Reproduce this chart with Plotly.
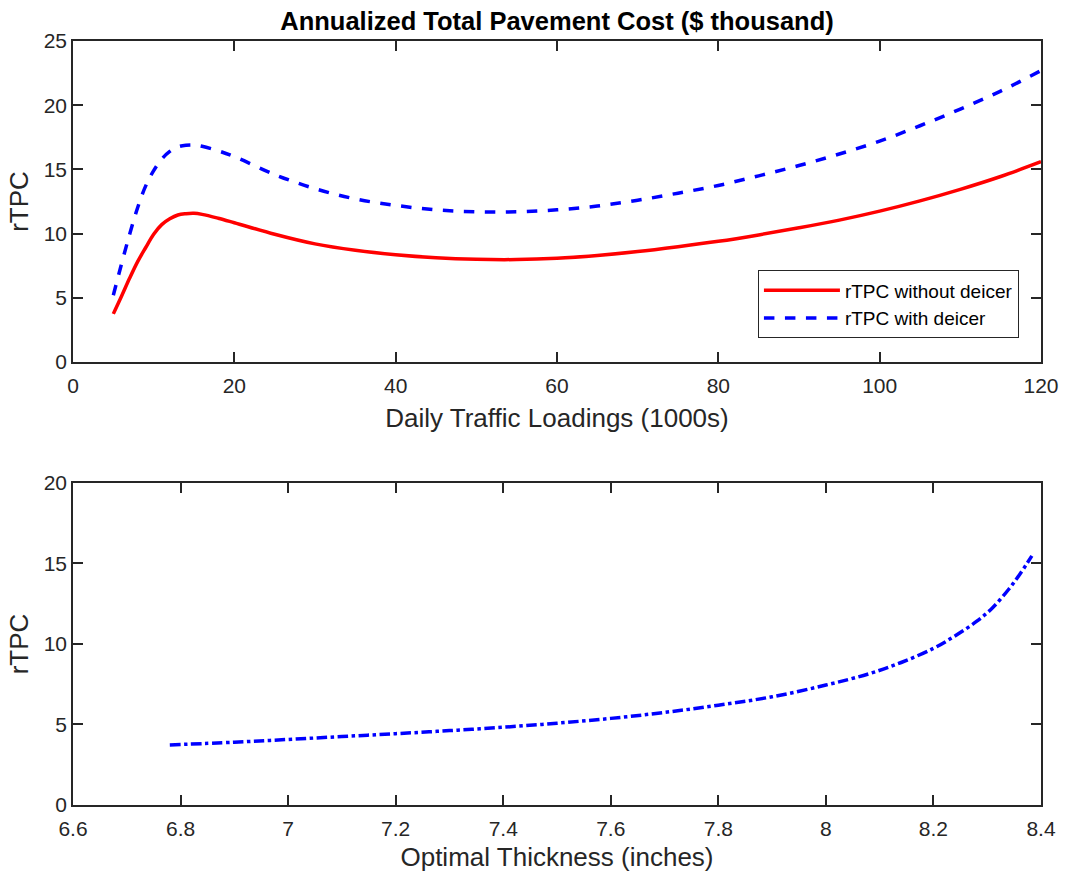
import plotly.graph_objects as go

# Top panel data
traffic = [5, 6, 7, 8, 9, 10, 11, 12, 13, 14, 15, 16, 18, 20, 25, 30, 35, 40, 45, 50, 55, 60, 65, 70, 75, 80, 85, 90, 95, 100, 105, 110, 115, 120]
rtpc_no_deicer = [3.75, 5.1, 6.5, 7.8, 8.9, 9.95, 10.7, 11.15, 11.45, 11.55, 11.58, 11.5, 11.2, 10.85, 9.95, 9.2, 8.7, 8.35, 8.12, 8.0, 7.98, 8.08, 8.3, 8.6, 8.98, 9.4, 9.9, 10.45, 11.05, 11.75, 12.55, 13.45, 14.45, 15.6]
rtpc_deicer = [5.2, 7.6, 9.9, 12.0, 13.7, 14.9, 15.8, 16.4, 16.75, 16.88, 16.9, 16.8, 16.45, 16.0, 14.6, 13.5, 12.7, 12.2, 11.85, 11.7, 11.7, 11.85, 12.15, 12.6, 13.15, 13.75, 14.5, 15.3, 16.2, 17.2, 18.4, 19.7, 21.1, 22.7]

# Bottom panel data
thickness = [6.78, 6.9, 7.0, 7.1, 7.2, 7.3, 7.4, 7.5, 7.6, 7.7, 7.8, 7.9, 8.0, 8.08, 8.14, 8.2, 8.24, 8.28, 8.31, 8.34, 8.36, 8.383]
rtpc_thick = [3.73, 3.9, 4.07, 4.25, 4.43, 4.62, 4.83, 5.08, 5.38, 5.75, 6.2, 6.72, 7.45, 8.15, 8.85, 9.73, 10.5, 11.4, 12.25, 13.4, 14.3, 15.47]

axis_color = "#262626"
font_family = "Liberation Sans, Arial, sans-serif"

fig = go.Figure()
fig.add_trace(go.Scatter(x=traffic, y=rtpc_no_deicer, mode="lines", name="rTPC without deicer",
                         line=dict(color="#ff0000", width=3.5, shape="spline"), xaxis="x", yaxis="y"))
fig.add_trace(go.Scatter(x=traffic, y=rtpc_deicer, mode="lines", name="rTPC with deicer",
                         line=dict(color="#0000ff", width=3.5, dash="dash", shape="spline"), xaxis="x", yaxis="y"))
fig.add_trace(go.Scatter(x=thickness, y=rtpc_thick, mode="lines", showlegend=False,
                         line=dict(color="#0000ff", width=3.5, dash="dashdot", shape="spline"), xaxis="x2", yaxis="y2"))

ax_common = dict(showline=True, linecolor=axis_color, linewidth=1.5, mirror="ticks",
                 ticks="inside", ticklen=10, tickwidth=1.5, tickcolor=axis_color,
                 showgrid=False, zeroline=False, automargin=False, ticklabeloverflow="allow",
                 tickfont=dict(size=21, color=axis_color, family=font_family))

title_font = dict(size=26, color=axis_color, family=font_family)

fig.update_layout(
    width=1065, height=880,
    paper_bgcolor="white", plot_bgcolor="white",
    margin=dict(l=73, r=24, t=41, b=75),
    font=dict(family=font_family, color=axis_color),
    title=dict(text="<b>Annualized Total Pavement Cost ($ thousand)</b>", x=0.523, xanchor="center",
               y=0.9765, yanchor="middle", font=dict(size=25.5, color="#000000", family=font_family),
               automargin=False),
    xaxis=dict(**ax_common, domain=[0, 1], range=[0, 120], dtick=20, anchor="y", ticklabelstandoff=4,
               title=dict(text="Daily Traffic Loadings (1000s)", font=title_font, standoff=13)),
    yaxis=dict(**ax_common, domain=[0.5798, 1], range=[0, 25], dtick=5, anchor="x",
               title=dict(text="rTPC", font=title_font, standoff=8)),
    xaxis2=dict(**ax_common, domain=[0, 1], range=[6.6, 8.4], dtick=0.2, tick0=6.6, anchor="y2", ticklabelstandoff=4,
                title=dict(text="Optimal Thickness (inches)", font=title_font, standoff=9)),
    yaxis2=dict(**ax_common, domain=[0, 0.4215], range=[0, 20], dtick=5, anchor="x2",
                title=dict(text="rTPC", font=title_font, standoff=8)),
    legend=dict(x=0.977, xanchor="right", y=0.611, yanchor="bottom",
                bgcolor="white", bordercolor=axis_color, borderwidth=1.2,
                font=dict(size=19, color="#000000", family=font_family),
                tracegroupgap=0, itemwidth=76),
)

fig.write_html("out.html", config={"displayModeBar": False},
               post_script="document.body.style.margin='0';")
